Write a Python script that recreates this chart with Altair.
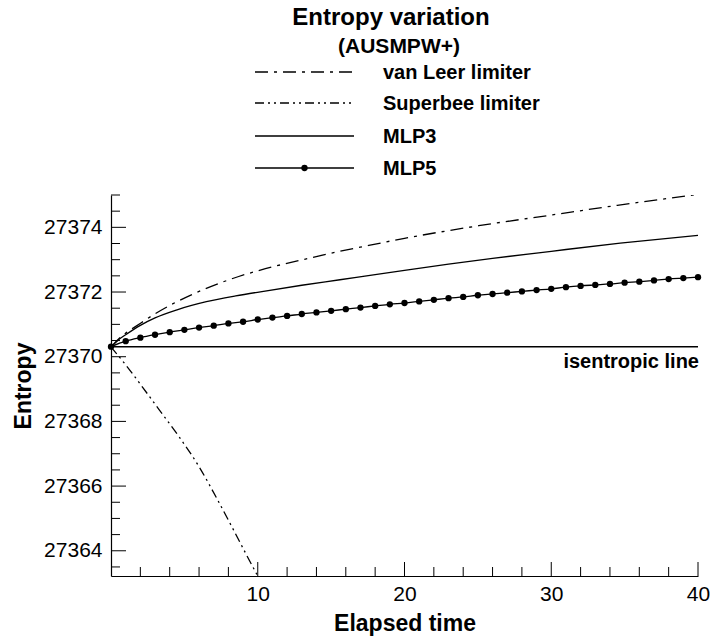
import altair as alt
import pandas as pd

# ---------------- data ----------------
vanleer_t = [0, 0.52, 1.09, 1.66, 3.02, 4.15, 6.43, 8.7, 10.52, 13.25, 15.5, 17.33, 20, 25.06, 30, 34.5, 40]
vanleer_s = [27370.30, 27370.55, 27370.76, 27370.93, 27371.33, 27371.62, 27372.10, 27372.48, 27372.72,
             27373.02, 27373.25, 27373.42, 27373.66, 27374.05, 27374.38, 27374.68, 27375.02]

superbee_t = [0, 1, 2, 3.25, 4.6, 6.0, 7.35, 8.4, 9.2, 10]
superbee_s = [27370.30, 27369.75, 27369.15, 27368.38, 27367.55, 27366.60, 27365.50, 27364.60, 27363.90, 27363.22]

mlp3_t = [0, 0.5, 1, 2, 3, 4.5, 6.5, 8.5, 10.5, 13, 15.6, 18, 20, 23, 26, 30, 34.7, 40]
mlp3_s = [27370.30, 27370.52, 27370.68, 27370.97, 27371.20, 27371.45, 27371.70, 27371.88, 27372.03,
          27372.21, 27372.38, 27372.54, 27372.67, 27372.86, 27373.04, 27373.26, 27373.51, 27373.75]

mlp5_t = list(range(0, 41))
mlp5_s = [27370.31, 27370.48, 27370.59, 27370.68, 27370.76, 27370.83, 27370.90, 27370.96, 27371.03,
          27371.08, 27371.15, 27371.21, 27371.26, 27371.32, 27371.37, 27371.42, 27371.47, 27371.52,
          27371.57, 27371.62, 27371.66, 27371.71, 27371.76, 27371.81, 27371.85, 27371.90, 27371.94,
          27371.98, 27372.02, 27372.06, 27372.10, 27372.15, 27372.19, 27372.22, 27372.25, 27372.29,
          27372.32, 27372.36, 27372.40, 27372.43, 27372.46]

isentropic_value = [27370.31]
isentropic_span = [0, 40]
isentropic_label = ["isentropic line"]

x_major_ticks = [10, 20, 30, 40]
x_minor_ticks = [2, 4, 6, 8, 12, 14, 16, 18, 22, 24, 26, 28, 32, 34, 36, 38]
y_major_ticks = [27364, 27366, 27368, 27370, 27372, 27374]
y_minor_ticks = [27363.5, 27364.5, 27365, 27365.5, 27366.5, 27367, 27367.5, 27368.5, 27369, 27369.5,
                 27370.5, 27371, 27371.5, 27372.5, 27373, 27373.5, 27374.5, 27375]

legend_labels = ["van Leer limiter", "Superbee limiter", "MLP3", "MLP5"]
title_lines = ["Entropy variation", "(AUSMPW+)"]

# ---------------- styles / layout ----------------
FONT = "Liberation Sans"
W, H = 587, 381
DASH_VL = [13, 6, 3, 6]
DASH_SB = [9, 4, 2, 4, 2, 4]
SOLID = [1, 0]
legend_dashes = [DASH_VL, DASH_SB, SOLID, SOLID]
legend_markers = [False, False, False, True]
legend_y = [-123, -92, -59, -27]
legend_x0, legend_x1, legend_tx = 144, 243, 272
title_pos = [(280, -177, 24), (288, -148, 21)]

xs = alt.Scale(domain=[0, 40], nice=False, zero=False)
ys = alt.Scale(domain=[27363.22, 27375], nice=False, zero=False)

xaxis = alt.Axis(values=x_major_ticks, title="Elapsed time", ticks=False, tickSize=0, grid=False,
                 labelPadding=7, labelFontSize=21, labelFont=FONT, labelColor="black",
                 labelFlush=False, labelOverlap=False,
                 titleFont=FONT, titleFontSize=23, titleFontWeight="bold", titleColor="black",
                 titlePadding=8, domainColor="black", domainWidth=1.2)
yaxis = alt.Axis(values=y_major_ticks, format="d", title="Entropy", ticks=False, tickSize=0, grid=False,
                 labelPadding=9, labelFontSize=21, labelFont=FONT, labelColor="black",
                 labelFlush=False, labelOverlap=False,
                 titleFont=FONT, titleFontSize=23, titleFontWeight="bold", titleColor="black",
                 titlePadding=8, domainColor="black", domainWidth=1.2)


def df(t, s):
    return pd.DataFrame({"x": t, "y": s})


def enc_x(field="x:Q"):
    return alt.X(field, scale=xs, axis=xaxis)


def enc_y():
    return alt.Y("y:Q", scale=ys, axis=yaxis)


layers = []

layers.append(alt.Chart(df(vanleer_t, vanleer_s)).mark_line(
    color="black", strokeWidth=1.3, strokeDash=DASH_VL, interpolate="monotone", clip=True
).encode(x=enc_x(), y=enc_y()))

layers.append(alt.Chart(df(superbee_t, superbee_s)).mark_line(
    color="black", strokeWidth=1.3, strokeDash=DASH_SB, interpolate="monotone", clip=True
).encode(x=enc_x(), y=enc_y()))

layers.append(alt.Chart(df(mlp3_t, mlp3_s)).mark_line(
    color="black", strokeWidth=1.3, interpolate="monotone", clip=True
).encode(x=enc_x(), y=enc_y()))

layers.append(alt.Chart(df(mlp5_t, mlp5_s)).mark_line(
    color="black", strokeWidth=1.3, interpolate="monotone", clip=True
).encode(x=enc_x(), y=enc_y()))
layers.append(alt.Chart(df(mlp5_t, mlp5_s)).mark_circle(
    color="black", size=40, opacity=1
).encode(x=enc_x(), y=enc_y()))

# isentropic line
iso_df = pd.DataFrame({"x": [isentropic_span[0]], "x2": [isentropic_span[1]], "y": isentropic_value,
                       "label": isentropic_label})
layers.append(alt.Chart(iso_df).mark_rule(color="black", strokeWidth=1.4).encode(
    x=enc_x(), x2="x2:Q", y=enc_y()))
iso_txt = pd.DataFrame({"x": [isentropic_span[1]], "y": isentropic_value, "label": isentropic_label})
layers.append(alt.Chart(iso_txt).mark_text(
    align="right", baseline="middle", dx=1, dy=15, fontSize=20, fontWeight="bold", font=FONT, color="black"
).encode(x=enc_x(), y=enc_y(), text="label:N"))

# inward ticks
for vals, ln in [(y_major_ticks, 15), (y_minor_ticks, 9)]:
    layers.append(alt.Chart(pd.DataFrame({"y": vals})).mark_rule(color="black", strokeWidth=1).encode(
        y=enc_y(), x=alt.value(0), x2=alt.value(ln)))
for vals, ln in [(x_major_ticks, 14), (x_minor_ticks, 9)]:
    layers.append(alt.Chart(pd.DataFrame({"x": vals})).mark_rule(color="black", strokeWidth=1).encode(
        x=enc_x(), y=alt.value(H), y2=alt.value(H - ln)))

# legend
for lab, dash, mk, ly in zip(legend_labels, legend_dashes, legend_markers, legend_y):
    d = alt.Data(values=[{"label": lab}])
    layers.append(alt.Chart(d).mark_rule(color="black", strokeWidth=1.3, strokeDash=dash).encode(
        x=alt.value(legend_x0), x2=alt.value(legend_x1), y=alt.value(ly)))
    layers.append(alt.Chart(d).mark_text(
        align="left", baseline="middle", fontSize=20, fontWeight="bold", font=FONT, color="black"
    ).encode(x=alt.value(legend_tx), y=alt.value(ly + 1), text="label:N"))
    if mk:
        layers.append(alt.Chart(d).mark_circle(color="black", size=40, opacity=1).encode(
            x=alt.value((legend_x0 + legend_x1) / 2), y=alt.value(ly)))

# titles
for txt, (tx, ty, fs) in zip(title_lines, title_pos):
    layers.append(alt.Chart(alt.Data(values=[{"t": txt}])).mark_text(
        align="center", baseline="middle", fontSize=fs, fontWeight="bold", font=FONT, color="black"
    ).encode(x=alt.value(tx), y=alt.value(ty), text="t:N"))

chart = alt.layer(*layers).properties(
    width=W, height=H,
    autosize=alt.AutoSizeParams(type="none"),
    padding={"left": 111, "top": 195, "right": 15, "bottom": 63},
    background="white",
).configure_view(stroke=None)

chart.save("out.html", embed_options={"renderer": "svg", "actions": False})
